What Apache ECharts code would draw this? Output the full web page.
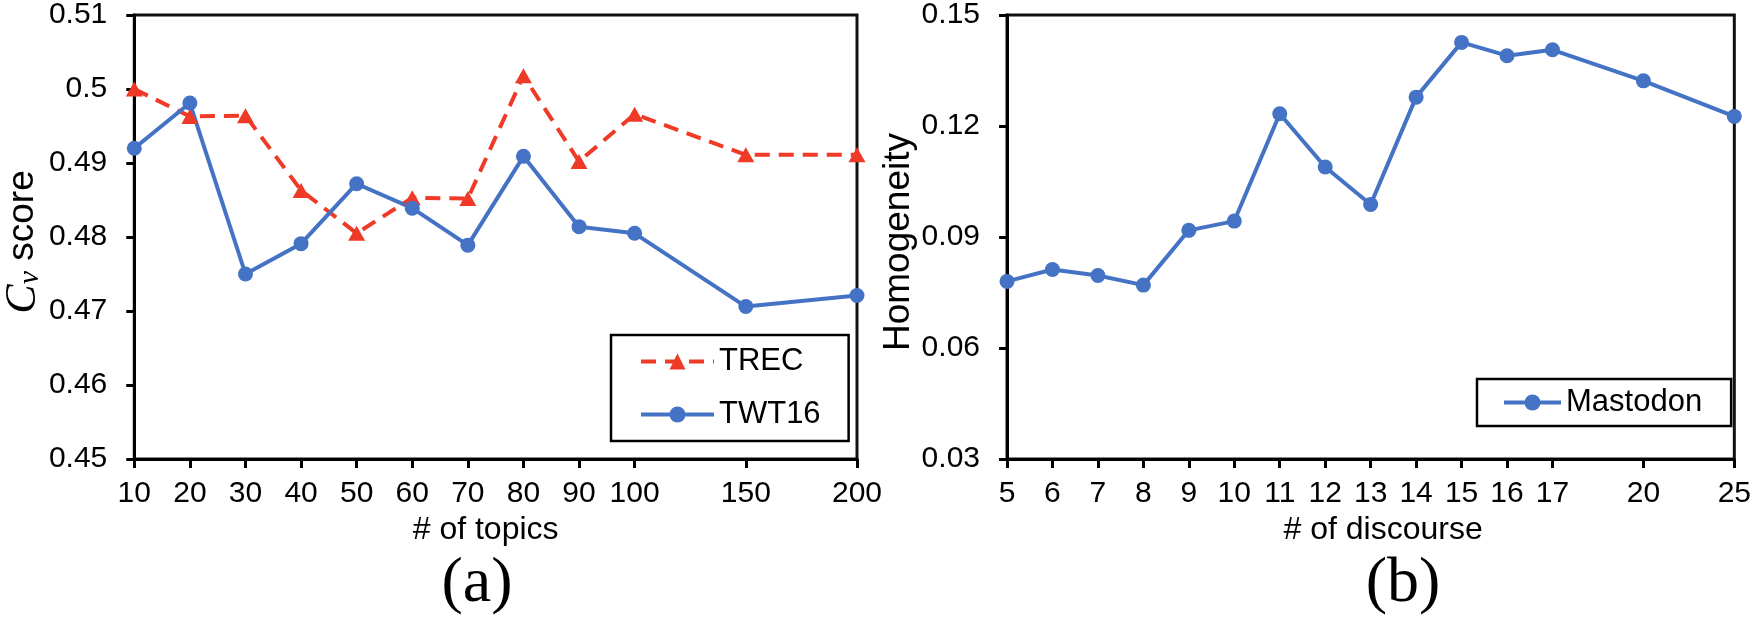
<!DOCTYPE html>
<html>
<head>
<meta charset="utf-8">
<script src="https://cdn.jsdelivr.net/npm/echarts@6/dist/echarts.min.js"></script>
<style>
  html, body { margin: 0; padding: 0; background: #fff; }
  #chart { width: 1754px; height: 618px; }
</style>
</head>
<body>
<div id="chart"></div>
<script>
  // (a) coherence vs number of topics
  var topics = [10, 20, 30, 40, 50, 60, 70, 80, 90, 100, 150, 200];
  var topicTicks = ['10', '20', '30', '40', '50', '60', '70', '80', '90', '100', ' ', '150', '  ', '200'];
  var trec = [0.5000, 0.4963, 0.4964, 0.4863, 0.4805, 0.4853, 0.4852, 0.5018, 0.4902, 0.4966, 0.4911, 0.4911];
  var twt16 = [0.4920, 0.4981, 0.4750, 0.4791, 0.4872, 0.4839, 0.4789, 0.4909, 0.4814, 0.4805, 0.4706, 0.4721];

  // (b) homogeneity vs number of discourse
  var discourse = [5, 6, 7, 8, 9, 10, 11, 12, 13, 14, 15, 16, 17, 20, 25];
  var discourseTicks = ['5', '6', '7', '8', '9', '10', '11', '12', '13', '14', '15', '16', '17', ' ', '20', '  ', '25'];
  var mastodon = [0.0780, 0.0812, 0.0796, 0.0770, 0.0918, 0.0943, 0.1233, 0.1089, 0.0988, 0.1278, 0.1426, 0.1390, 0.1406, 0.1322, 0.1226];

  var BLUE = '#4472C4';
  var RED = '#EE3A26';
  var FONT = 'Liberation Sans';

  function pairs(xs, ys) {
    return xs.map(function (x, i) { return [String(x), ys[i]]; });
  }
  function notBlank(index, value) {
    return String(value).trim() !== '';
  }

  function xAxisFor(gridIndex, ticks, name, pad) {
    return {
      type: 'category',
      gridIndex: gridIndex,
      data: ticks,
      boundaryGap: false,
      name: name,
      nameLocation: 'middle',
      nameGap: 54,
      nameTextStyle: { fontFamily: FONT, fontSize: 32, color: '#000', padding: pad },
      axisLine: { lineStyle: { color: '#000', width: 3 } },
      axisTick: { show: true, inside: false, length: 9, interval: notBlank, lineStyle: { color: '#000', width: 3 } },
      axisLabel: { interval: notBlank, margin: 20, fontFamily: FONT, fontSize: 30, color: '#000' },
      splitLine: { show: false }
    };
  }

  function yAxisFor(gridIndex, min, max, interval, name, gap, rich) {
    return {
      type: 'value',
      gridIndex: gridIndex,
      min: min,
      max: max,
      interval: interval,
      name: name,
      nameLocation: 'middle',
      nameRotate: 90,
      nameGap: gap,
      nameTextStyle: { fontFamily: FONT, fontSize: 37, color: '#000', padding: [0, 10, 0, 0], rich: rich },
      axisLine: { show: true, lineStyle: { color: '#000', width: 3 } },
      axisTick: { show: true, inside: false, length: 8, lineStyle: { color: '#000', width: 3 } },
      axisLabel: { margin: 27, fontFamily: FONT, fontSize: 30, color: '#000' },
      splitLine: { show: false }
    };
  }

  var chart = echarts.init(document.getElementById('chart'));
  var option = {
    animation: false,
    backgroundColor: '#fff',
    grid: [
      { left: 125, top: 15, width: 732, height: 444, show: true, borderColor: '#111', borderWidth: 3 },
      { left: 1007, top: 15, width: 731, height: 444, show: true, borderColor: '#111', borderWidth: 3 }
    ],
    xAxis: [
      xAxisFor(0, topicTicks, '# of topics', [0, 20, 0, 0]),
      xAxisFor(1, discourseTicks, '# of discourse', [0, 0, 0, 25])
    ],
    yAxis: [
      yAxisFor(0, 0.45, 0.51, 0.01, '{c|C}{v|v} score', 86, {
        c: { fontFamily: 'Liberation Serif', fontStyle: 'italic', fontSize: 44, color: '#000' },
        v: { fontFamily: 'Liberation Serif', fontStyle: 'italic', fontSize: 30, color: '#000', verticalAlign: 'bottom' }
      }),
      yAxisFor(1, 0.03, 0.15, 0.03, 'Homogeneity', 88)
    ],
    legend: [
      {
        data: ['TREC', 'TWT16'],
        orient: 'vertical',
        left: 611,
        top: 335,
        padding: [11, 28, 11, 28],
        itemGap: 22,
        itemWidth: 73,
        itemHeight: 20,
        borderColor: '#000',
        borderWidth: 2.5,
        lineStyle: { width: 4 },
        textStyle: { fontFamily: FONT, fontSize: 31, color: '#000' }
      },
      {
        data: ['Mastodon'],
        orient: 'vertical',
        left: 1477,
        top: 379,
        padding: [8, 29, 8, 25],
        itemWidth: 57,
        itemHeight: 20,
        borderColor: '#000',
        borderWidth: 2.5,
        lineStyle: { width: 4 },
        textStyle: { fontFamily: FONT, fontSize: 31, color: '#000' }
      }
    ],
    series: [
      {
        name: 'TREC',
        type: 'line',
        xAxisIndex: 0,
        yAxisIndex: 0,
        data: pairs(topics, trec),
        symbol: 'triangle',
        symbolSize: [17, 15],
        itemStyle: { color: RED },
        lineStyle: { color: RED, width: 4, type: [15, 9] }
      },
      {
        name: 'TWT16',
        type: 'line',
        xAxisIndex: 0,
        yAxisIndex: 0,
        data: pairs(topics, twt16),
        symbol: 'circle',
        symbolSize: 15,
        itemStyle: { color: BLUE },
        lineStyle: { color: BLUE, width: 4 }
      },
      {
        name: 'Mastodon',
        type: 'line',
        xAxisIndex: 1,
        yAxisIndex: 1,
        data: pairs(discourse, mastodon),
        symbol: 'circle',
        symbolSize: 15,
        itemStyle: { color: BLUE },
        lineStyle: { color: BLUE, width: 4 }
      }
    ],
    graphic: [
      { type: 'text', x: 477, y: 584, style: { text: '(a)', font: '64px "Liberation Serif"', fill: '#000', textAlign: 'center', textVerticalAlign: 'middle' } },
      { type: 'text', x: 1403, y: 584, style: { text: '(b)', font: '64px "Liberation Serif"', fill: '#000', textAlign: 'center', textVerticalAlign: 'middle' } }
    ]
  };
  chart.setOption(option);
</script>
</body>
</html>
